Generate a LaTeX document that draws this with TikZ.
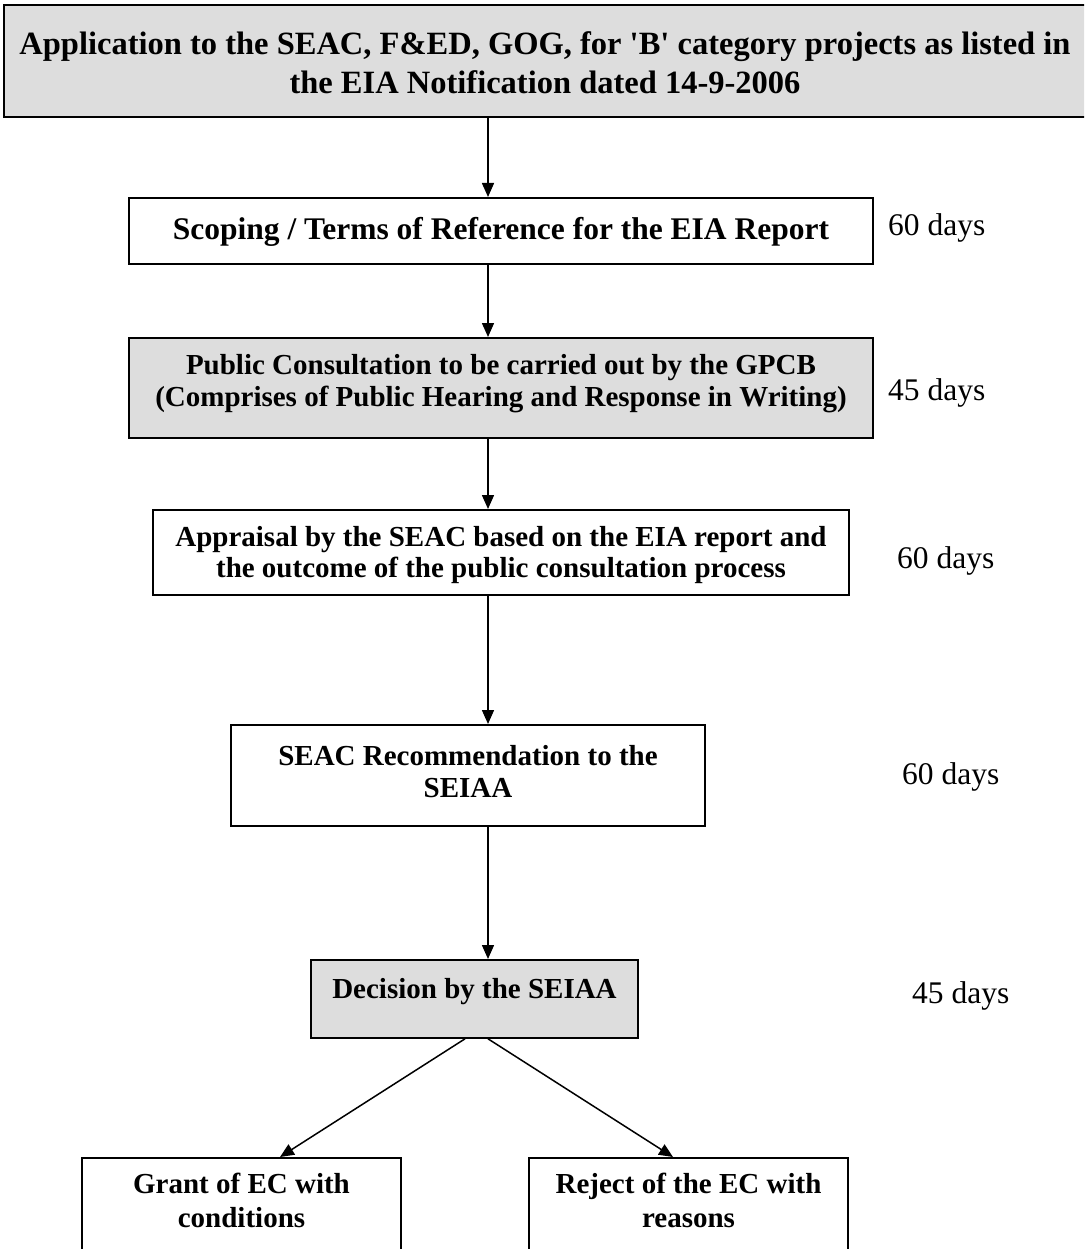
\documentclass[tikz,border=0pt]{standalone}
\usepackage{fontspec}
\setmainfont{Liberation Serif}
\usetikzlibrary{arrows.meta}

\definecolor{boxgray}{HTML}{DDDDDD}
\tikzset{
	stage/.style={draw, line width=1.8pt, inner sep=0pt, align=center, anchor=north,
		font=\bfseries\fontsize{29}{32}\selectfont},
	shaded/.style={stage, fill=boxgray},
	days/.style={anchor=base west, inner sep=0pt, font=\fontsize{31.5}{36}\selectfont},
	flow/.style={line width=1.5pt, -{Triangle[length=14pt,width=12pt]}}
}

\begin{document}
\begin{tikzpicture}[x=1pt,y=-1pt]
	\clip (0,0) rectangle (1084,1249);
	\coordinate (spine) at (488,0);
	\node[shaded, minimum width=1082pt, text height=88.5pt, text depth=23.5pt,
		font=\bfseries\fontsize{32.5}{39}\selectfont] (apply) at (545,4)
		{Application to the SEAC, F\&ED, GOG, for \textquotesingle B\textquotesingle{} category projects as listed in\\the EIA Notification dated 14-9-2006};
	\node[stage, minimum width=744pt, text height=41.5pt, text depth=24.5pt,
		font=\bfseries\fontsize{31.5}{36}\selectfont] (scope) at (501,197)
		{Scoping / Terms of Reference for the EIA Report};
	\node[shaded, minimum width=744pt, text height=68.5pt, text depth=31.5pt] (consult) at (501,337)
		{Public Consultation to be carried out by the GPCB\\(Comprises of Public Hearing and Response in Writing)};
	\node[stage, minimum width=696pt, text height=67.5pt, text depth=17.5pt, font=\bfseries\fontsize{29}{31}\selectfont] (appraise) at (501,509)
		{Appraisal by the SEAC based on the EIA report and\\the outcome of the public consultation process};
	\node[stage, minimum width=474pt, text height=72.5pt, text depth=28.5pt] (recommend) at (468,724)
		{SEAC Recommendation to the\\SEIAA};
	\node[shaded, minimum width=327pt, text height=38.5pt, text depth=39.5pt] (decide) at (474.5,959)
		{Decision by the SEIAA};
	\node[stage, minimum width=319pt, text height=69.5pt, text depth=80pt, font=\bfseries\fontsize{29}{34}\selectfont] (grant) at (241.5,1157)
		{Grant of EC with\\conditions};
	\node[stage, minimum width=319pt, text height=69.5pt, text depth=80pt, font=\bfseries\fontsize{29}{34}\selectfont] (reject) at (688.5,1157)
		{Reject of the EC with\\reasons};

	\node[days] (d1) at (888,235.5) {60 days};
	\node[days] (d2) at (888,400.5) {45 days};
	\node[days] (d3) at (897,568.5) {60 days};
	\node[days] (d4) at (902,784.5) {60 days};
	\node[days] (d5) at (912,1003.5) {45 days};

	\draw[flow] (apply.south -| spine) -- (scope.north -| spine);
	\draw[flow] (scope.south -| spine) -- (consult.north -| spine);
	\draw[flow] (consult.south -| spine) -- (appraise.north -| spine);
	\draw[flow] (appraise.south -| spine) -- (recommend.north -| spine);
	\draw[flow] (recommend.south -| spine) -- (decide.north -| spine);
	\draw[flow] ([xshift=-9.5pt]decide.south) -- ([xshift=38.5pt]grant.north);
	\draw[flow] (decide.south -| spine) -- ([xshift=-15.5pt]reject.north);
\end{tikzpicture}
\end{document}
